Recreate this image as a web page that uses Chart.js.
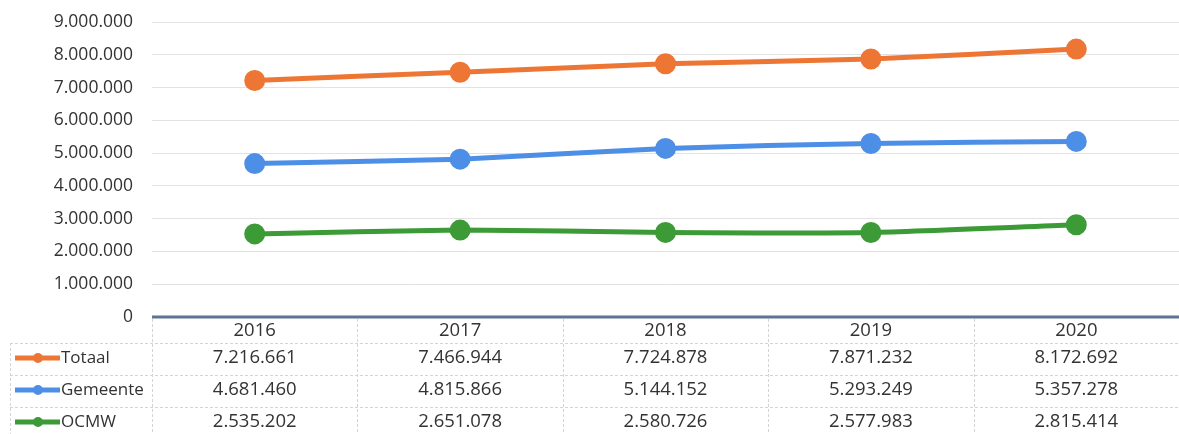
<!DOCTYPE html>
<html lang="nl">

<head>
    <meta charset="UTF-8">
    <title>Totaal / Gemeente / OCMW</title>
    <script src="https://cdn.jsdelivr.net/npm/chart.js"></script>
    <style>
        html, body {
            margin: 0;
            background: #fff;
            overflow: hidden;
        }

        .wrapper {
            width: 1179px;
            height: 434px;
        }

        canvas {
            display: block;
        }
    </style>
</head>

<body>
    <div class="wrapper">
        <canvas id="lineChart"></canvas>
    </div>

    <script>
        const years = ['2016', '2017', '2018', '2019', '2020'];
        const totaal = [7216661, 7466944, 7724878, 7871232, 8172692];
        const gemeente = [4681460, 4815866, 5144152, 5293249, 5357278];
        const ocmw = [2535202, 2651078, 2580726, 2577983, 2815414];

        const fontFamily = '"Open Sans", "Liberation Sans", sans-serif';

        // 7216661 -> 7.216.661
        function fmt(v) {
            return String(Math.round(v)).replace(/\B(?=(\d{3})+(?!\d))/g, '.');
        }

        const series = [
            { label: 'Totaal', data: totaal, color: '#ee7634' },
            { label: 'Gemeente', data: gemeente, color: '#4d8fe6' },
            { label: 'OCMW', data: ocmw, color: '#3c9a37' },
        ];

        // zero line + data table under the plot
        const tablePlugin = {
            id: 'dataTable',
            beforeDatasetsDraw(chart) {
                const { ctx, chartArea } = chart;
                const y0 = chart.scales.y.getPixelForValue(0);
                ctx.save();
                ctx.strokeStyle = '#5d7593';
                ctx.lineWidth = 3;
                ctx.beginPath();
                ctx.moveTo(chartArea.left, y0);
                ctx.lineTo(chartArea.right, y0);
                ctx.stroke();
                ctx.restore();
            },
            afterDraw(chart) {
                const { ctx, chartArea } = chart;
                const x = chart.scales.x;
                const colW = (chartArea.right - chartArea.left) / years.length;
                const top = chart.scales.y.getPixelForValue(0) + 2;
                const rowH = 32;
                const headH = 24;
                const bottom = chart.height;

                ctx.save();
                ctx.strokeStyle = '#d4d4d4';
                ctx.lineWidth = 1;
                ctx.setLineDash([3, 2]);

                // vertical lines
                for (let i = 0; i <= years.length; i++) {
                    const lx = Math.round(chartArea.left + i * colW) + 0.5;
                    ctx.beginPath();
                    ctx.moveTo(lx, top);
                    ctx.lineTo(lx, bottom);
                    ctx.stroke();
                }
                // left border of legend column
                ctx.beginPath();
                ctx.moveTo(10.5, top + headH);
                ctx.lineTo(10.5, bottom);
                ctx.stroke();

                // horizontal lines
                for (let r = 0; r < series.length; r++) {
                    const ly = Math.round(top + headH + r * rowH) + 0.5;
                    ctx.beginPath();
                    ctx.moveTo(10, ly);
                    ctx.lineTo(chartArea.right, ly);
                    ctx.stroke();
                }
                ctx.setLineDash([]);

                ctx.fillStyle = '#333';
                ctx.textAlign = 'center';
                ctx.textBaseline = 'middle';
                ctx.font = '18.5px ' + fontFamily;

                years.forEach((yr, i) => {
                    ctx.fillText(yr, x.getPixelForValue(i), top + headH / 2);
                });

                series.forEach((s, r) => {
                    const cy = top + headH + r * rowH + rowH / 2 - 1;
                    // legend sample
                    ctx.strokeStyle = s.color;
                    ctx.lineWidth = 5;
                    ctx.beginPath();
                    ctx.moveTo(15, cy);
                    ctx.lineTo(60, cy);
                    ctx.stroke();
                    ctx.fillStyle = s.color;
                    ctx.beginPath();
                    ctx.arc(38, cy, 5, 0, Math.PI * 2);
                    ctx.fill();

                    ctx.fillStyle = '#333';
                    ctx.textAlign = 'left';
                    ctx.font = '17px ' + fontFamily;
                    ctx.fillText(s.label, 61, cy);
                    ctx.textAlign = 'center';
                    ctx.font = '18.5px ' + fontFamily;
                    s.data.forEach((v, i) => {
                        ctx.fillText(fmt(v), x.getPixelForValue(i), cy);
                    });
                });
                ctx.restore();
            }
        };

        const ctx = document.getElementById('lineChart').getContext('2d');

        const data = {
            labels: years,
            datasets: series.map(s => ({
                label: s.label,
                data: s.data,
                borderColor: s.color,
                backgroundColor: s.color,
                borderWidth: 5,
                pointRadius: 8,
                pointHoverRadius: 8,
                tension: 0.2,
                fill: false,
            }))
        };

        const config = {
            type: 'line',
            data: data,
            options: {
                responsive: true,
                maintainAspectRatio: false,
                animation: false,
                layout: {
                    autoPadding: false,
                    padding: { top: 22, bottom: 117, left: 0, right: 0 }
                },
                scales: {
                    x: {
                        display: false,
                        offset: true,
                    },
                    y: {
                        min: 0,
                        max: 9000000,
                        afterFit(scale) {
                            // tick padding would otherwise push the plot down
                            scale.width = 152;
                            scale.paddingTop = 10;
                            scale.paddingBottom = 10;
                        },
                        border: { display: false },
                        grid: {
                            color: ctx => ctx.tick.value === 0 ? 'rgba(0,0,0,0)' : '#e2e2e2',
                            drawTicks: false,
                        },
                        ticks: {
                            stepSize: 1000000,
                            padding: 19,
                            color: '#333',
                            font: { family: fontFamily, size: 17.5 },
                            callback: v => fmt(v)
                        }
                    }
                },
                plugins: {
                    legend: { display: false },
                    tooltip: { enabled: false },
                    title: { display: false }
                }
            },
            plugins: [tablePlugin]
        };

        new Chart(ctx, config);
    </script>
</body>

</html>
